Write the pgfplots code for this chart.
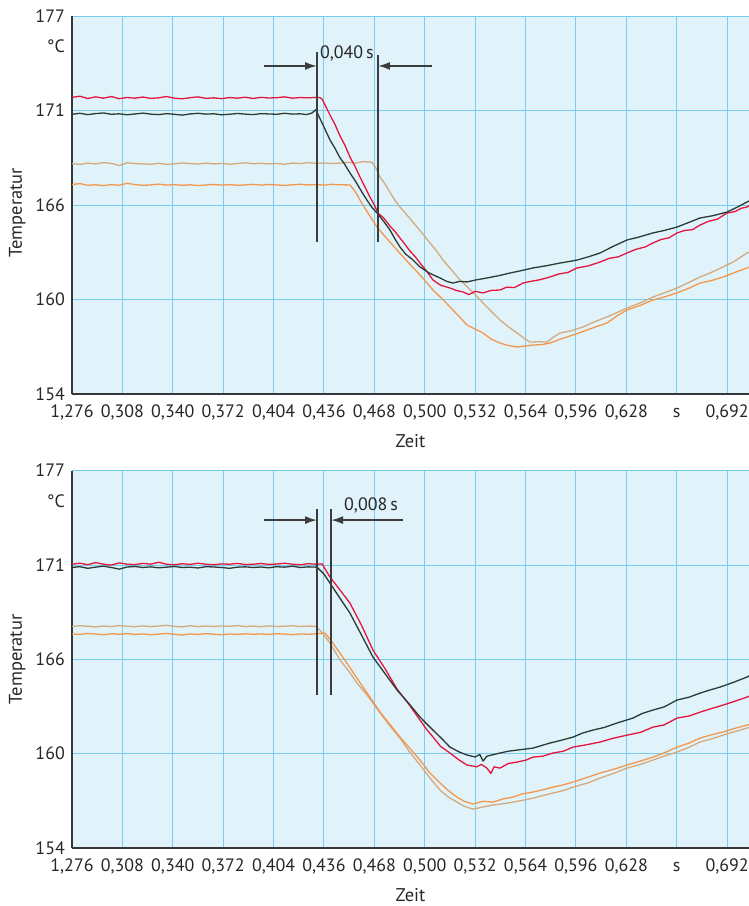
\documentclass[border=0pt]{standalone}
\usepackage{fontspec}
\setmainfont{PT Sans}
\usepackage{pgfplots}
\pgfplotsset{compat=1.18}
\usetikzlibrary{arrows.meta}

\definecolor{redc}{RGB}{228,22,62}
\definecolor{darkc}{RGB}{45,58,52}
\definecolor{tanc}{RGB}{212,170,125}
\definecolor{orangec}{RGB}{244,150,75}
\definecolor{bgblue}{RGB}{224,243,251}
\definecolor{gridblue}{RGB}{120,205,238}
\definecolor{axisgray}{RGB}{55,55,55}
\definecolor{annotc}{RGB}{60,60,60}

\pgfplotsset{
  tempplot/.style={
    scale only axis, width=677bp,
    xmin=0.276, xmax=0.7059, ymin=154, ymax=177,
    axis lines*=left,
    axis line style={line width=1.6bp, color=axisgray},
    axis background/.style={fill=bgblue},
    grid=major, grid style={color=gridblue, line width=1bp},
    major tick length=0pt,
    xtick={0.276,0.308,0.340,0.372,0.404,0.436,0.468,0.500,0.532,0.564,0.596,0.628,0.660,0.692},
    xticklabels={{1,276},{0,308},{0,340},{0,372},{0,404},{0,436},{0,468},{0,500},{0,532},{0,564},{0,596},{0,628},s,{0,692}},
    ytick={154,159.75,165.5,171.25,177},
    yticklabels={154,160,166,171,177},
    extra y ticks={175.15},
    extra y tick labels={°C},
    extra y tick style={grid=none},
    tick label style={font=\fontsize{18}{20}\selectfont, text=black!85, text height=12.5bp, text depth=0bp, inner sep=1.5bp},
    xticklabel style={yshift=-9.5bp},
    yticklabel style={xshift=-5.5bp},
    label style={font=\fontsize{18.5}{20}\selectfont, text=black!85},
    xlabel={Zeit}, ylabel={Temperatur},
    xlabel style={at={(axis description cs:0.5,-0.124)}, anchor=center},
    ylabel style={at={(axis description cs:-0.081,0.48)}, anchor=center},
    clip=true,
  },
  curve/.style={line width=1.3bp, line join=round},
  annot/.style={draw=annotc, line width=1.8bp},
  arr/.style={annot, -{Latex[length=12bp, width=8bp]}},
}

\begin{document}
\begin{tikzpicture}
% ---------------- upper chart ----------------
\begin{axis}[tempplot, at={(72bp,-394bp)}, anchor=south west, height=378bp]
% tan
\addplot[curve, tanc] coordinates {
(0.276,168.02)(0.281,167.97)(0.286,168.05)(0.291,168.0)(0.296,168.08)(0.301,168.03)(0.306,167.9)(0.311,168.07)(0.316,168.02)(0.321,168.0)(0.326,167.98)(0.331,168.04)(0.336,167.97)(0.341,168.01)(0.346,168.06)(0.351,168.02)(0.356,167.99)(0.361,168.05)(0.366,168.0)(0.371,168.03)(0.376,167.98)(0.381,168.02)(0.386,168.07)(0.391,168.01)(0.396,168.04)(0.401,168.0)(0.406,168.03)(0.411,167.98)(0.416,168.05)(0.421,168.02)(0.426,168.08)(0.431,168.03)(0.436,168.06)(0.441,168.02)(0.446,168.05)(0.451,168.1)(0.456,168.05)(0.461,168.14)(0.4665,168.1)(0.4690,167.75)(0.4716,167.20)(0.4750,166.75)(0.4780,166.25)(0.4810,165.8)(0.4843,165.38)(0.4900,164.75)(0.4951,164.16)(0.5000,163.6)(0.5033,163.19)(0.5075,162.7)(0.5116,162.15)(0.5170,161.55)(0.5224,160.94)(0.5300,160.25)(0.5370,159.54)(0.5420,159.05)(0.5478,158.50)(0.5530,158.1)(0.5586,157.71)(0.5630,157.4)(0.5668,157.16)(0.5720,157.18)(0.5776,157.16)(0.5815,157.45)(0.5859,157.71)(0.5930,157.85)(0.6005,158.08)(0.6080,158.4)(0.6157,158.69)(0.6220,158.95)(0.6284,159.23)(0.6370,159.55)(0.6449,159.90)(0.6520,160.15)(0.6602,160.45)(0.6680,160.8)(0.6748,161.12)(0.6820,161.4)(0.6894,161.73)(0.6970,162.1)(0.7046,162.58)(0.706,162.62)
};
% orange
\addplot[curve, orangec] coordinates {
(0.276,166.75)(0.281,166.8)(0.286,166.7)(0.291,166.73)(0.296,166.68)(0.301,166.74)(0.306,166.7)(0.311,166.82)(0.316,166.74)(0.321,166.7)(0.326,166.72)(0.331,166.77)(0.336,166.71)(0.341,166.74)(0.346,166.7)(0.351,166.73)(0.356,166.68)(0.361,166.72)(0.366,166.75)(0.371,166.71)(0.376,166.74)(0.381,166.7)(0.386,166.72)(0.391,166.76)(0.396,166.71)(0.401,166.75)(0.406,166.72)(0.411,166.69)(0.416,166.73)(0.421,166.76)(0.426,166.72)(0.431,166.74)(0.436,166.71)(0.441,166.76)(0.446,166.73)(0.4525,166.72)(0.4560,166.3)(0.4589,165.80)(0.4640,165.0)(0.4697,164.16)(0.4760,163.45)(0.4824,162.76)(0.4900,161.95)(0.4970,161.24)(0.5010,160.8)(0.5052,160.33)(0.5120,159.7)(0.5179,159.11)(0.5220,158.7)(0.5268,158.20)(0.5320,157.95)(0.5370,157.71)(0.5420,157.35)(0.5478,157.10)(0.5530,156.95)(0.5586,156.86)(0.5640,156.92)(0.5687,156.98)(0.5740,157.0)(0.5795,157.10)(0.5850,157.3)(0.5903,157.47)(0.5960,157.65)(0.6030,157.89)(0.6090,158.1)(0.6157,158.32)(0.6220,158.75)(0.6284,159.11)(0.6370,159.4)(0.6449,159.72)(0.6520,159.9)(0.6602,160.15)(0.6680,160.45)(0.6748,160.75)(0.6820,160.9)(0.6894,161.12)(0.6970,161.4)(0.7046,161.67)(0.706,161.72)
};
% red
\addplot[curve, redc] coordinates {
(0.276,172.05)(0.281,172.12)(0.286,171.98)(0.291,172.08)(0.296,172.0)(0.301,172.1)(0.306,171.97)(0.311,172.04)(0.316,172.0)(0.321,172.07)(0.326,171.99)(0.331,172.02)(0.336,172.1)(0.341,172.0)(0.346,171.96)(0.351,172.03)(0.356,172.08)(0.361,171.99)(0.366,172.02)(0.371,171.97)(0.376,172.04)(0.381,172.0)(0.386,172.06)(0.391,171.98)(0.396,172.05)(0.401,172.01)(0.406,172.03)(0.411,172.08)(0.416,172.0)(0.421,172.04)(0.426,172.02)(0.431,172.05)(0.4335,172.03)(0.4348,171.95)(0.4398,170.98)(0.4430,170.4)(0.4462,169.70)(0.4495,169.1)(0.4525,168.42)(0.4557,167.85)(0.4589,167.20)(0.4620,166.6)(0.4652,165.99)(0.4680,165.5)(0.4703,165.01)(0.4740,164.7)(0.4779,164.22)(0.4810,163.9)(0.4843,163.49)(0.4875,163.1)(0.4906,162.70)(0.4940,162.35)(0.4970,161.97)(0.5010,161.5)(0.5052,160.94)(0.5100,160.62)(0.5160,160.45)(0.5200,160.3)(0.5243,160.21)(0.5280,160.05)(0.5320,160.25)(0.5370,160.15)(0.5420,160.3)(0.5478,160.33)(0.5520,160.5)(0.5570,160.48)(0.5624,160.75)(0.5670,160.85)(0.5730,160.95)(0.5795,161.12)(0.5850,161.3)(0.5910,161.4)(0.5967,161.67)(0.6040,161.8)(0.6113,162.03)(0.6170,162.25)(0.6230,162.35)(0.6284,162.58)(0.6340,162.8)(0.6400,162.95)(0.6449,163.19)(0.6500,163.4)(0.6550,163.5)(0.6602,163.80)(0.6650,163.95)(0.6700,164.0)(0.6748,164.28)(0.6800,164.5)(0.6860,164.65)(0.6919,165.01)(0.6970,165.1)(0.7010,165.3)(0.7046,165.38)(0.706,165.45)
};
% dark
\addplot[curve, darkc] coordinates {
(0.276,171.02)(0.281,171.08)(0.286,171.0)(0.291,171.06)(0.296,171.1)(0.301,171.02)(0.306,171.05)(0.311,170.99)(0.316,171.04)(0.321,171.09)(0.326,171.03)(0.331,171.0)(0.336,171.06)(0.341,171.02)(0.346,170.97)(0.351,171.04)(0.356,171.08)(0.361,171.03)(0.366,171.05)(0.371,170.99)(0.376,171.02)(0.381,171.07)(0.386,171.03)(0.391,171.0)(0.396,171.06)(0.401,171.04)(0.406,171.02)(0.411,171.08)(0.416,171.03)(0.421,171.05)(0.425,171.0)(0.4284,171.10)(0.4309,171.30)(0.4330,170.85)(0.4360,170.25)(0.4398,169.46)(0.4430,168.95)(0.4460,168.4)(0.4490,168.0)(0.4525,167.45)(0.4560,166.95)(0.4600,166.3)(0.4633,165.80)(0.4665,165.35)(0.4697,165.01)(0.4740,164.5)(0.4779,163.98)(0.4810,163.45)(0.4843,162.94)(0.4880,162.5)(0.4920,162.2)(0.4970,161.73)(0.5030,161.35)(0.5097,161.06)(0.5140,160.85)(0.5179,160.75)(0.5220,160.85)(0.5268,160.82)(0.5330,160.95)(0.5395,161.06)(0.5470,161.2)(0.5541,161.36)(0.5610,161.5)(0.5687,161.67)(0.5770,161.8)(0.5859,161.97)(0.5910,162.05)(0.5967,162.15)(0.6040,162.35)(0.6113,162.58)(0.6200,163.0)(0.6284,163.37)(0.6360,163.55)(0.6449,163.80)(0.6520,163.95)(0.6602,164.16)(0.6680,164.45)(0.6748,164.71)(0.6830,164.85)(0.6919,165.07)(0.6980,165.35)(0.7046,165.68)(0.706,165.75)
};
% annotation 0,040 s
\addplot[annot] coordinates {(0.4316,174.8) (0.4316,163.25)};
\addplot[annot] coordinates {(0.4703,174.6) (0.4703,163.25)};
\addplot[arr] coordinates {(0.398,173.96) (0.4316,173.96)};
\addplot[arr] coordinates {(0.5046,173.96) (0.4703,173.96)};
\node[font=\fontsize{18}{20}\selectfont, text=black!85] at (axis cs:0.4506,174.75) {0,040\,s};
\end{axis}

% ---------------- lower chart ----------------
\begin{axis}[tempplot, at={(72bp,-848bp)}, anchor=south west, height=377.3bp,
  ylabel style={at={(axis description cs:-0.081,0.5)}}]
% tan
\addplot[curve, tanc] coordinates {
(0.276,167.5)(0.281,167.55)(0.286,167.52)(0.291,167.48)(0.296,167.53)(0.301,167.5)(0.306,167.56)(0.311,167.52)(0.316,167.49)(0.321,167.54)(0.326,167.5)(0.331,167.53)(0.336,167.58)(0.341,167.51)(0.346,167.48)(0.351,167.55)(0.356,167.5)(0.361,167.53)(0.366,167.5)(0.371,167.54)(0.376,167.51)(0.381,167.56)(0.386,167.5)(0.391,167.53)(0.396,167.49)(0.401,167.54)(0.406,167.5)(0.411,167.52)(0.416,167.55)(0.421,167.5)(0.426,167.53)(0.4309,167.52)(0.4350,167.1)(0.4398,166.49)(0.4462,165.46)(0.4520,164.75)(0.4570,164.05)(0.4640,163.25)(0.4703,162.41)(0.4770,161.55)(0.4843,160.70)(0.4900,159.9)(0.4970,159.06)(0.5030,158.3)(0.5097,157.53)(0.5150,157.1)(0.5205,156.80)(0.5250,156.55)(0.5306,156.37)(0.5370,156.5)(0.5433,156.62)(0.5500,156.7)(0.5560,156.80)(0.5620,156.9)(0.5687,157.04)(0.5750,157.2)(0.5814,157.35)(0.5880,157.5)(0.5941,157.71)(0.6030,157.95)(0.6113,158.26)(0.6200,158.55)(0.6284,158.87)(0.6370,159.1)(0.6449,159.36)(0.6520,159.6)(0.6602,159.85)(0.6680,160.15)(0.6748,160.46)(0.6820,160.65)(0.6894,160.88)(0.6970,161.1)(0.7046,161.31)(0.706,161.35)
};
% orange
\addplot[curve, orangec] coordinates {
(0.276,167.05)(0.281,167.02)(0.286,167.08)(0.291,167.04)(0.296,167.0)(0.301,167.06)(0.306,167.03)(0.311,167.07)(0.316,167.02)(0.321,167.05)(0.326,167.0)(0.331,167.04)(0.336,167.08)(0.341,167.03)(0.346,166.98)(0.351,167.05)(0.356,167.02)(0.361,167.07)(0.366,167.03)(0.371,167.0)(0.376,167.05)(0.381,167.02)(0.386,167.06)(0.391,167.03)(0.396,167.05)(0.401,167.02)(0.406,167.06)(0.411,167.04)(0.416,167.0)(0.421,167.05)(0.426,167.03)(0.431,167.06)(0.4367,167.1)(0.4417,166.49)(0.4506,165.27)(0.4608,163.81)(0.4716,162.29)(0.4843,160.76)(0.4970,159.36)(0.5030,158.6)(0.5097,157.96)(0.5150,157.5)(0.5205,157.10)(0.5250,156.85)(0.5306,156.68)(0.5370,156.85)(0.5433,156.80)(0.5500,157.0)(0.5560,157.10)(0.5620,157.3)(0.5687,157.41)(0.5750,157.55)(0.5814,157.71)(0.5880,157.85)(0.5941,158.02)(0.6030,158.3)(0.6113,158.57)(0.6200,158.8)(0.6284,159.06)(0.6370,159.3)(0.6449,159.54)(0.6520,159.8)(0.6602,160.15)(0.6680,160.4)(0.6748,160.70)(0.6820,160.9)(0.6894,161.07)(0.6970,161.3)(0.7046,161.49)(0.706,161.52)
};
% red
\addplot[curve, redc] coordinates {
(0.276,171.3)(0.281,171.36)(0.286,171.27)(0.291,171.4)(0.296,171.3)(0.301,171.25)(0.306,171.38)(0.311,171.3)(0.316,171.28)(0.321,171.35)(0.326,171.3)(0.331,171.42)(0.336,171.3)(0.341,171.27)(0.346,171.33)(0.351,171.29)(0.356,171.36)(0.361,171.3)(0.366,171.27)(0.371,171.32)(0.376,171.3)(0.381,171.35)(0.386,171.28)(0.391,171.3)(0.396,171.34)(0.401,171.29)(0.406,171.31)(0.411,171.36)(0.416,171.3)(0.421,171.27)(0.426,171.33)(0.431,171.3)(0.4348,171.32)(0.4398,170.52)(0.4460,169.75)(0.4525,168.93)(0.4600,167.55)(0.4671,166.07)(0.4750,164.9)(0.4824,163.69)(0.4900,162.75)(0.4970,161.80)(0.5010,161.25)(0.5052,160.77)(0.5100,160.2)(0.5160,159.79)(0.5220,159.35)(0.5268,159.06)(0.5330,158.95)(0.5360,159.1)(0.5395,158.87)(0.5420,158.55)(0.5440,158.95)(0.5478,158.87)(0.5530,159.15)(0.5586,159.24)(0.5640,159.35)(0.5687,159.54)(0.5750,159.6)(0.5814,159.79)(0.5880,159.9)(0.5941,160.15)(0.6030,160.3)(0.6113,160.46)(0.6200,160.7)(0.6284,160.88)(0.6370,161.05)(0.6449,161.37)(0.6520,161.5)(0.6602,161.92)(0.6680,162.05)(0.6748,162.28)(0.6820,162.5)(0.6894,162.71)(0.6970,162.95)(0.7046,163.20)(0.706,163.25)
};
% dark
\addplot[curve, darkc] coordinates {
(0.276,171.1)(0.281,171.15)(0.286,171.05)(0.291,171.12)(0.296,171.18)(0.301,171.1)(0.306,171.0)(0.311,171.13)(0.316,171.16)(0.321,171.1)(0.326,171.14)(0.331,171.08)(0.336,171.12)(0.341,171.16)(0.346,171.1)(0.351,171.12)(0.356,171.07)(0.361,171.15)(0.366,171.13)(0.371,171.1)(0.376,171.05)(0.381,171.12)(0.386,171.14)(0.391,171.1)(0.396,171.13)(0.401,171.08)(0.406,171.15)(0.411,171.12)(0.416,171.18)(0.421,171.1)(0.426,171.14)(0.4316,171.12)(0.4360,170.7)(0.4398,170.15)(0.4460,169.25)(0.4525,168.32)(0.4600,166.95)(0.4671,165.64)(0.4750,164.6)(0.4824,163.63)(0.4900,162.8)(0.4970,161.98)(0.5052,161.19)(0.5110,160.65)(0.5160,160.15)(0.5220,159.85)(0.5268,159.67)(0.5320,159.55)(0.5350,159.7)(0.5370,159.3)(0.5395,159.6)(0.5478,159.79)(0.5530,159.9)(0.5586,159.97)(0.5687,160.09)(0.5795,160.40)(0.5860,160.55)(0.5941,160.76)(0.6000,161.0)(0.6068,161.19)(0.6140,161.35)(0.6221,161.62)(0.6322,161.92)(0.6380,162.2)(0.6449,162.41)(0.6520,162.6)(0.6602,163.02)(0.6680,163.2)(0.6748,163.44)(0.6800,163.6)(0.6875,163.81)(0.6960,164.1)(0.7046,164.42)(0.706,164.5)
};
% annotation 0,008 s
\addplot[annot] coordinates {(0.4316,174.66) (0.4316,163.32)};
\addplot[annot] coordinates {(0.4405,174.66) (0.4405,163.32)};
\addplot[arr] coordinates {(0.3979,173.99) (0.4316,173.99)};
\addplot[arr] coordinates {(0.4862,173.99) (0.4405,173.99)};
\node[font=\fontsize{18}{20}\selectfont, text=black!85] at (axis cs:0.4659,174.9) {0,008\,s};
\end{axis}
\pgfresetboundingbox
\path (0bp,0bp) rectangle (749bp,-906bp);
\end{tikzpicture}
\end{document}
